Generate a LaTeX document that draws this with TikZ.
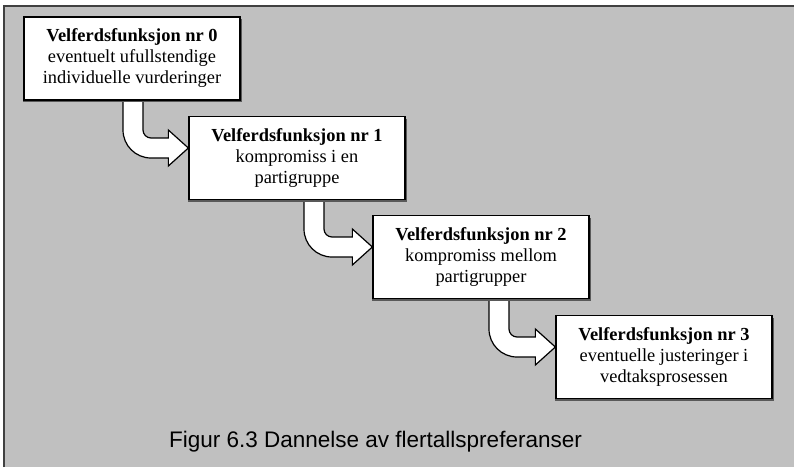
\documentclass[tikz,border=0pt]{standalone}
\usepackage{fontspec}
\setmainfont{Liberation Serif}
\newfontfamily\capfont{Liberation Sans}
\usetikzlibrary{calc}
\definecolor{panel}{HTML}{C0C0C0}
\definecolor{frameline}{HTML}{404040}
\pgfdeclarelayer{panellayer}
\pgfdeclarelayer{arrowlayer}
\pgfdeclarelayer{shadowlayer}
\pgfsetlayers{panellayer,arrowlayer,shadowlayer,main}
\tikzset{
  stagebox/.style={draw=black, line width=1.3pt, fill=white,
    minimum width=216pt, minimum height=83pt, inner sep=0pt,
    align=center, font=\fontsize{18.4}{21}\selectfont},
  boxshadow/.style={fill=black!65, draw=none},
  bentarrow/.style={draw=black, line width=1.2pt, fill=white, line join=miter},
}
% bent block arrow: from the bottom of box #1 down a stem centred at x=#3,
% turning right into the west side of box #2
\newcommand\stagearrow[3]{%
  \path[bentarrow] let \p1 = (#1.south), \p2 = (#2.west),
      \n1 = {#3}, \n2 = {\y2/1pt+10} in
    ({(\n1-10)*1pt}, {\y1+6pt}) -- ({(\n1-10)*1pt}, {(\n2+18)*1pt})
    arc[start angle=180, end angle=270, radius=28pt]
    -- ({\x2-20pt}, {(\n2-10)*1pt}) -- ({\x2-20pt}, {(\n2-18)*1pt})
    -- ({\x2}, {\n2*1pt}) -- ({\x2-20pt}, {(\n2+18)*1pt})
    -- ({\x2-20pt}, {(\n2+10)*1pt}) -- ({(\n1+18)*1pt}, {(\n2+10)*1pt})
    arc[start angle=270, end angle=180, radius=8pt]
    -- ({(\n1+10)*1pt}, {\y1+6pt}) -- cycle;
}
\begin{document}
\begin{tikzpicture}[x=1pt, y=1pt]
  \useasboundingbox (0,0) rectangle (794,467);

  % the four stages
  \node[stagebox] (b0) at (132,408.5) {\textbf{Velferdsfunksjon nr 0}\\eventuelt ufullstendige\\individuelle vurderinger};
  \node[stagebox] (b1) at (297,309) {\textbf{Velferdsfunksjon nr 1}\\kompromiss i en\\partigruppe};
  \node[stagebox] (b2) at (481,210) {\textbf{Velferdsfunksjon nr 2}\\kompromiss mellom\\partigrupper};
  \node[stagebox] (b3) at (664,110) {\textbf{Velferdsfunksjon nr 3}\\eventuelle justeringer i\\vedtaksprosessen};

  \node[font=\capfont\fontsize{22.5}{26}\selectfont, anchor=base] (cap) at (375.5,20)
    {Figur 6.3 Dannelse av flertallspreferanser};

  % drop shadows below and right of each box
  \begin{pgfonlayer}{shadowlayer}
    \foreach \b in {b0,b1,b2,b3}
      \fill[boxshadow] ($(\b.south west)+(0,-1.5)$) rectangle ($(\b.north east)+(1.5,-3)$);
  \end{pgfonlayer}

  % arrows between consecutive stages
  \begin{pgfonlayer}{arrowlayer}
    \stagearrow{b0}{b1}{133}
    \stagearrow{b1}{b2}{314}
    \stagearrow{b2}{b3}{499}
  \end{pgfonlayer}

  % grey panel with its dark top and left edges
  \begin{pgfonlayer}{panellayer}
    \fill[white] (0,0) rectangle (794,467);
    \fill[panel] (4,0) rectangle (794,461);
    \draw[frameline, line width=2pt] (4,0) -- (4,461) -- (794,461);
  \end{pgfonlayer}
\end{tikzpicture}
\end{document}
